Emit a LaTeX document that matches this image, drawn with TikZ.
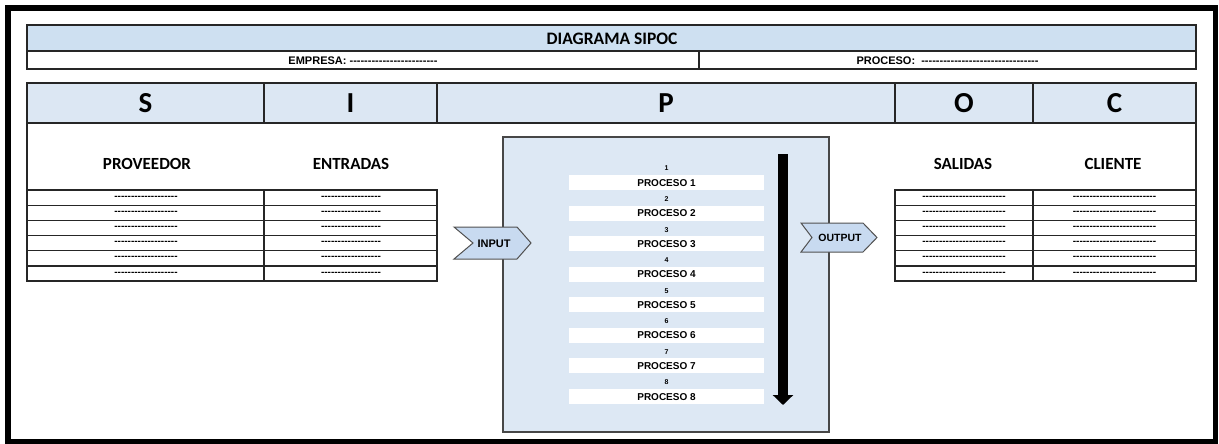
\documentclass[tikz,border=0pt]{standalone}
\usepackage{fontspec}
\setmainfont{Carlito}
\newfontfamily\arial[Ligatures=TeXOff]{Liberation Sans}
\usetikzlibrary{arrows.meta}
\definecolor{titleblue}{RGB}{206,224,241}
\definecolor{headblue}{RGB}{220,231,243}
\definecolor{procblue}{RGB}{221,232,244}
\definecolor{chevblue}{RGB}{200,218,240}
\definecolor{linec}{RGB}{38,38,38}
\begin{document}
\begin{tikzpicture}[x=1pt,y=-1pt,line join=miter,
  cell/.style={draw=linec,line width=1.3pt},
  bigletter/.style={font=\bfseries\fontsize{29}{32}\selectfont},
  colhead/.style={font=\bfseries\fontsize{17}{20}\selectfont},
  smallhdr/.style={font=\arial\bfseries\fontsize{11}{13}\selectfont},
  dashtxt/.style={font=\arial\bfseries\fontsize{10}{12}\selectfont,inner sep=0pt},
  procname/.style={font=\arial\bfseries\fontsize{10}{12}\selectfont,inner sep=0pt},
  procnum/.style={font=\arial\bfseries\fontsize{7}{8}\selectfont,inner sep=0pt},
  chev/.style={draw=linec!80,line width=1pt,fill=chevblue},
  chevtxt/.style={font=\arial\bfseries\fontsize{11}{13}\selectfont,inner sep=0pt}]
\useasboundingbox (0,0) rectangle (1219,444);
% outer frame
\draw[line width=5.5pt,black] (8,8) rectangle (1215.5,441.5);
% title block
\fill[titleblue] (27,25) rectangle (1196,51);
\draw[cell] (27,25) rectangle (1196,69);
\draw[cell] (27,51) -- (1196,51);
\draw[cell] (699,51) -- (699,69);
\node[font=\bfseries\fontsize{17.5}{20}\selectfont] (title) at (612,38.5) {DIAGRAMA SIPOC};
\node[smallhdr] (empresa) at (363,60.5) {EMPRESA: ------------------------};
\node[smallhdr] (proceso) at (947.5,60.5) {PROCESO:\ \ --------------------------------};
% SIPOC header row
\fill[headblue] (27,83) rectangle (1196,123);
\draw[cell] (27,83) rectangle (1196,123);
\foreach \xx in {264,437,895,1033} \draw[cell] (\xx,83) -- (\xx,123);
\node[bigletter] (hS) at (145.5,103.5) {S};
\node[bigletter] (hI) at (350.5,103.5) {I};
\node[bigletter] (hP) at (666,103.5) {P};
\node[bigletter] (hO) at (964,103.5) {O};
\node[bigletter] (hC) at (1114.5,103.5) {C};
% body side lines
\draw[cell] (27,123) -- (27,190);
\draw[cell] (1196,123) -- (1196,190);
% column headers
\node[colhead] (prov) at (147,164) {PROVEEDOR};
\node[colhead] (entr) at (351,164) {ENTRADAS};
\node[colhead] (sali) at (963,164) {SALIDAS};
\node[colhead] (clie) at (1113,164) {CLIENTE};
% left table
\draw[cell] (27,190) rectangle (437,281);
\draw[cell] (264,190) -- (264,281);
\foreach \k in {1,...,5} \draw[cell] (27,190+15.17*\k) -- (437,190+15.17*\k);
% right table
\draw[cell] (895,190) rectangle (1196,281);
\draw[cell] (1033,190) -- (1033,281);
\foreach \k in {1,...,5} \draw[cell] (895,190+15.17*\k) -- (1196,190+15.17*\k);
\foreach \k in {0,...,5}{
  \node[dashtxt] (ls\k) at (146,190+15.17*\k+7.6) {-------------------};
  \node[dashtxt] (le\k) at (351,190+15.17*\k+7.6) {------------------};
  \node[dashtxt] (rs\k) at (964,190+15.17*\k+7.6) {-------------------------};
  \node[dashtxt] (rc\k) at (1114.5,190+15.17*\k+7.6) {-------------------------};
}
% process box
\draw[fill=procblue,draw=linec!85,line width=1.3pt] (503,137) rectangle (829,432);
\foreach \i in {0,...,7}{
  \pgfmathsetmacro{\tp}{175+30.57*\i}
  \pgfmathtruncatemacro{\nn}{\i+1}
  \fill[white] (569,\tp) rectangle (764,\tp+15);
  \node[procnum] (num\nn) at (666.5,\tp-6.5) {\nn};
  \node[procname] (proc\nn) at (666.5,\tp+7.7) {PROCESO \nn};
}
% flow arrow
\coordinate (atop) at (783,154);
\coordinate (abot) at (783,405);
\draw[line width=10pt,black,-{Triangle[width=20pt,length=10pt]}] (atop) -- (abot);
% INPUT chevron
\draw[chev] (454,227) -- (517,227) -- (531,243) -- (517,259) -- (454,259) -- (473,243) -- cycle;
\node[chevtxt] (input) at (494,244) {INPUT};
% OUTPUT chevron
\draw[chev] (801,223) -- (863,223) -- (877,237.5) -- (863,252) -- (801,252) -- (812,237.5) -- cycle;
\node[chevtxt,font=\arial\bfseries\fontsize{10.5}{12}\selectfont] (output) at (840,238) {OUTPUT};
\end{tikzpicture}
\end{document}
